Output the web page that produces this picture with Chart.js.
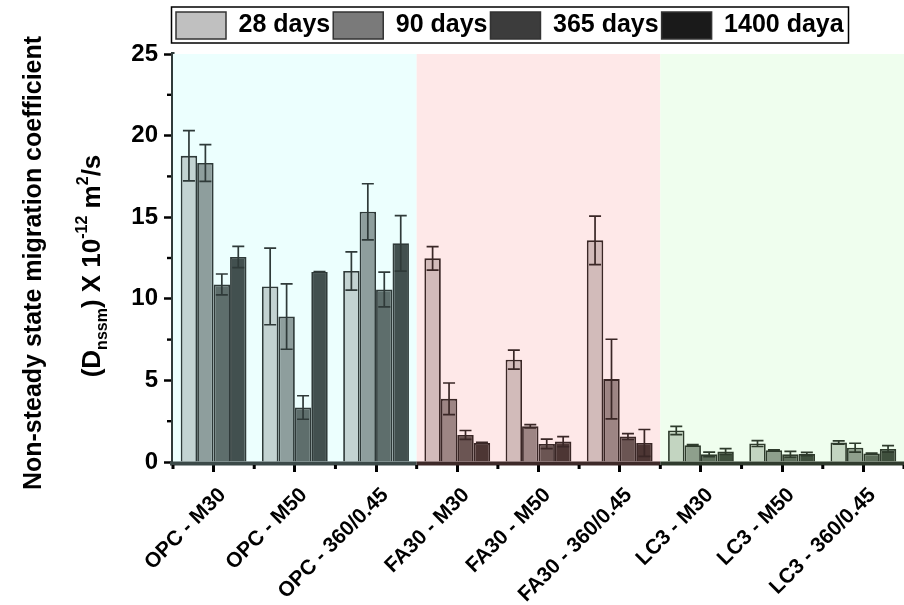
<!DOCTYPE html>
<html>
<head>
<meta charset="utf-8">
<script src="https://cdn.jsdelivr.net/npm/chart.js@4.4.0/dist/chart.umd.min.js"></script>
<style>
  html, body { margin: 0; padding: 0; background: #fff; }
  #wrap { width: 904px; height: 605px; position: relative; }
</style>
</head>
<body>
<div id="wrap"><canvas id="chart"></canvas></div>
<script>
// categories and series
const mixes = ['OPC - M30', 'OPC - M50', 'OPC - 360/0.45',
               'FA30 - M30', 'FA30 - M50', 'FA30 - 360/0.45',
               'LC3 - M30', 'LC3 - M50', 'LC3 - 360/0.45'];
const ages = ['28 days', '90 days', '365 days', '1400 daya'];

const d28   = [18.76, 10.76, 11.70, 12.48, 6.27, 13.58, 1.93, 1.13, 1.19];
const d90   = [18.32,  8.91, 15.33,  3.87, 2.19,  5.08, 1.03, 0.72, 0.88];
const d365  = [10.88,  3.34, 10.57,  1.66, 1.11,  1.56, 0.47, 0.47, 0.52];
const d1400 = [12.56, 11.64, 13.40,  1.17, 1.25,  1.17, 0.64, 0.49, 0.80];

// +/- error
const e28   = [1.54, 2.35, 1.17, 0.72, 0.58, 1.48, 0.25, 0.18, 0.10];
const e90   = [1.13, 2.00, 1.72, 0.97, 0.10, 2.44, 0.03, 0.03, 0.27];
const e365  = [0.64, 0.72, 1.07, 0.27, 0.29, 0.18, 0.14, 0.18, 0.03];
const e1400 = [0.65, 0.03, 1.70, 0.03, 0.31, 0.82, 0.18, 0.10, 0.20];

const yTicks = [0, 5, 10, 15, 20, 25];

// styling
const groupOf = [0, 0, 0, 1, 1, 1, 2, 2, 2];
const fills = [
  ['#c3d3d2', '#d2bbba', '#c3d5c1'],
  ['#8e9e9d', '#9d8584', '#8e9f8c'],
  ['#5e6e6c', '#6b5553', '#5e6f5c'],
  ['#42504f', '#4d3634', '#3f503d']
];
const edges = ['#2f3a39', '#3a2726', '#2e3b2c'];
const axisCols = ['#3b4948', '#3d2928', '#2f3b2d'];
const shades = ['#ecfffe', '#fee8e8', '#effeee'];
const legendFills = ['#c0c0c0', '#7a7a7a', '#3c3c3c', '#1a1a1a'];

const series = [d28, d90, d365, d1400];
const errs = [e28, e90, e365, e1400];

const datasets = series.map((vals, i) => ({
  label: ages[i],
  data: vals,
  errors: errs[i],
  backgroundColor: vals.map((v, j) => fills[i][groupOf[j]]),
  borderColor: vals.map((v, j) => edges[groupOf[j]]),
  borderWidth: 1.8
}));

const bold = (s) => ({ family: "'Liberation Sans', Arial, sans-serif", weight: 'bold', size: s });

// white page + coloured group bands
const bands = {
  id: 'bands',
  beforeDraw(chart) {
    const ctx = chart.ctx;
    ctx.save();
    ctx.fillStyle = '#fff';
    ctx.fillRect(0, 0, chart.width, chart.height);
    ctx.restore();
  },
  beforeDatasetsDraw(chart) {
    const { ctx, chartArea: a, scales: { x } } = chart;
    ctx.save();
    for (let g = 0; g < 3; g++) {
      const x0 = x.getPixelForValue(g * 3 - 0.5);
      const x1 = x.getPixelForValue(g * 3 + 2.5);
      ctx.fillStyle = shades[g];
      ctx.fillRect(x0, a.top, x1 - x0, a.bottom - a.top);
    }
    ctx.restore();
  }
};

const errorBars = {
  id: 'errorBars',
  afterDatasetsDraw(chart) {
    const { ctx, scales: { y } } = chart;
    ctx.save();
    ctx.lineWidth = 1.7;
    chart.data.datasets.forEach((ds, i) => {
      chart.getDatasetMeta(i).data.forEach((bar, j) => {
        const top = y.getPixelForValue(ds.data[j] + ds.errors[j]);
        const bot = y.getPixelForValue(ds.data[j] - ds.errors[j]);
        ctx.strokeStyle = edges[groupOf[j]];
        ctx.beginPath();
        ctx.moveTo(bar.x, top); ctx.lineTo(bar.x, bot);
        ctx.moveTo(bar.x - 6, top); ctx.lineTo(bar.x + 6, top);
        ctx.moveTo(bar.x - 6, bot); ctx.lineTo(bar.x + 6, bot);
        ctx.stroke();
      });
    });
    ctx.restore();
  }
};

// bottom axis in group colours, minor ticks, legend frame, y title
const extras = {
  id: 'extras',
  afterLayout(chart) {
    chart.legend.top -= 5;
    chart.legend.bottom -= 5;
  },
  afterDraw(chart) {
    const { ctx, chartArea: a, scales: { x, y } } = chart;
    ctx.save();
    ctx.lineWidth = 4;
    for (let g = 0; g < 3; g++) {
      ctx.strokeStyle = axisCols[g];
      ctx.beginPath();
      ctx.moveTo(x.getPixelForValue(g * 3 - 0.5) - (g === 0 ? 3 : 0), a.bottom + 1.5);
      ctx.lineTo(x.getPixelForValue(g * 3 + 2.5), a.bottom + 1.5);
      ctx.stroke();
    }
    ctx.fillStyle = '#000';
    for (let k = 0; k <= 9; k++) {
      const px = x.getPixelForValue(k - 0.5);
      ctx.fillRect(px - 1.5, a.bottom + 3, 3, 4);
    }
    for (let v = 2.5; v < 25; v += 5) {
      const py = y.getPixelForValue(v);
      ctx.fillRect(a.left - 6, py - 1.2, 4, 2.4);
    }

    // legend frame
    ctx.strokeStyle = '#000';
    ctx.lineWidth = 1.5;
    ctx.strokeRect(171.5, 7, 677, 36);

    // y axis title
    ctx.fillStyle = '#000';
    ctx.translate(41, 263);
    ctx.rotate(-Math.PI / 2);
    ctx.font = "bold 25px 'Liberation Sans', Arial, sans-serif";
    ctx.textAlign = 'center';
    ctx.textBaseline = 'alphabetic';
    ctx.fillText('Non-steady state migration coefficient', 0, 0);

    ctx.translate(-3, 59);
    const big = "bold 26px 'Liberation Sans', Arial, sans-serif";
    const small = "bold 16px 'Liberation Sans', Arial, sans-serif";
    const parts = [
      ['(D', big, 0], ['nssm', small, 7], [') X 10', big, 0], ['-12', small, -13],
      [' m', big, 0], ['2', small, -12], ['/s', big, 0]
    ];
    let total = 0;
    parts.forEach(p => { ctx.font = p[1]; total += ctx.measureText(p[0]).width; });
    let cx = -total / 2;
    ctx.textAlign = 'left';
    parts.forEach(p => {
      ctx.font = p[1];
      ctx.fillText(p[0], cx, p[2]);
      cx += ctx.measureText(p[0]).width;
    });
    ctx.restore();
  }
};

new Chart(document.getElementById('chart'), {
  type: 'bar',
  data: { labels: mixes, datasets: datasets },
  options: {
    responsive: true,
    maintainAspectRatio: false,
    animation: false,
    layout: { padding: { top: 14, left: 0, right: 0, bottom: 0 } },
    datasets: { bar: { categoryPercentage: 0.81, barPercentage: 1.0 } },
    plugins: {
      tooltip: { enabled: false },
      legend: {
        position: 'top',
        align: 'start',
        fullSize: false,
        labels: {
          boxWidth: 50,
          boxHeight: 27,
          padding: 3,
          color: '#000',
          font: bold(25),
          generateLabels: () => ages.map((a, i) => ({
            text: a,
            fillStyle: legendFills[i],
            strokeStyle: '#333',
            lineWidth: 1.5,
            hidden: false,
            datasetIndex: i
          }))
        }
      }
    },
    scales: {
      x: {
        afterFit: (s) => { s.height = 143; },
        border: { display: false },
        grid: { offset: false, drawOnChartArea: false, drawTicks: true, tickLength: 10, tickColor: '#000', tickWidth: 3 },
        ticks: {
          autoSkip: false, maxRotation: 45, minRotation: 45,
          labelOffset: 9, padding: 11, color: '#000', font: bold(21)
        }
      },
      y: {
        min: 0, max: 25,
        afterFit: (s) => { s.width = 173; },
        afterBuildTicks: (s) => { s.ticks = yTicks.map(v => ({ value: v })); },
        border: { display: true, color: '#2f3b3a', width: 3.5 },
        grid: { drawOnChartArea: false, drawTicks: true, tickLength: 9, tickColor: '#000', tickWidth: 2.5 },
        ticks: { padding: 6, color: '#000', font: bold(24) }
      }
    }
  },
  plugins: [bands, errorBars, extras]
});
</script>
</body>
</html>
